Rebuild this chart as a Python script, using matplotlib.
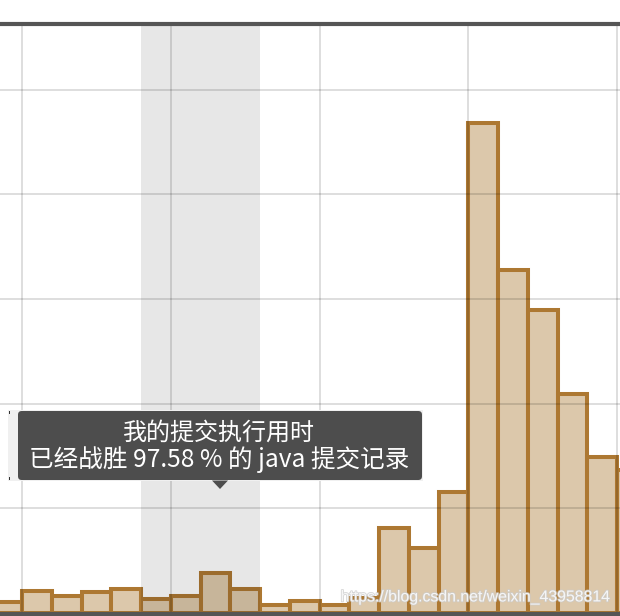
import numpy as np
import matplotlib.pyplot as plt
from matplotlib.patches import FancyBboxPatch, Polygon, Rectangle
import matplotlib.patheffects as pe

plt.rcParams['font.family'] = ['Noto Sans CJK SC', 'DejaVu Sans']

# bin left edges and bar heights (runtime distribution)
bin_left = np.arange(-1, 21)
counts = [1.0, 2.1, 1.6, 2.0, 2.3, 1.3, 1.6, 3.8, 2.3, 0.8, 1.1,
          0.8, 1.4, 8.1, 6.2, 11.6, 46.8, 32.8, 28.9, 20.9, 14.9, 13.7]

# highlighted range (my submission)
band = (4, 8)
tip_lines = ['我的提交执行用时', '已经战胜 97.58 % 的 java 提交记录']
watermark = 'https://blog.csdn.net/weixin_43958814'

W, H = 620, 616
fig = plt.figure(figsize=(W / 100, H / 100), dpi=100)
ax = fig.add_axes([0, 2 / H, 1, 590 / H])

ax.bar(bin_left, counts, width=1, align='edge', color='#dcc8ab',
       edgecolor='#ad7832', linewidth=2.9, zorder=2)
ax.axvspan(band[0], band[1], color='black', alpha=0.095, lw=0, zorder=3)

ax.set_xlim(-22 / 29.75, 598 / 29.75)
ax.set_ylim(-0.1, 56.26)
ax.set_xticks([0, 5, 10, 15, 20])
ax.set_yticks([10, 20, 30, 40, 50])
ax.grid(True, color='black', alpha=0.14, linewidth=1.3, zorder=4)
ax.set_axisbelow(False)
ax.tick_params(length=0, labelbottom=False, labelleft=False)
for s in ['left', 'right']:
    ax.spines[s].set_visible(False)
for s in ['top', 'bottom']:
    ax.spines[s].set_color('#555555')
    ax.spines[s].set_linewidth(3.0)
    ax.spines[s].set_zorder(6)

# helper: pixel -> figure fraction
def px(x, y):
    return (x / W, 1 - y / H)

# tooltip
x0, y0 = px(8, 481)
x1, y1 = px(423, 410)
fig.patches.append(Rectangle((x0, y0), x1 - x0, y1 - y0, transform=fig.transFigure,
                             facecolor='#f0f0f0', edgecolor='none', zorder=7))
dx0, dy0 = px(18, 480)
dx1, dy1 = px(422, 411)
fig.patches.append(FancyBboxPatch((dx0, dy0), dx1 - dx0, dy1 - dy0,
                                  boxstyle='round,pad=0,rounding_size=0.006',
                                  transform=fig.transFigure, facecolor='#4d4d4d',
                                  edgecolor='none', zorder=8))
fig.patches.append(Polygon([px(212, 480.5), px(228, 480.5), px(220, 489)],
                           closed=True, transform=fig.transFigure,
                           facecolor='#4d4d4d', edgecolor='none', zorder=8))
for (cx, cy) in [(8.5, 411), (8.5, 480)]:
    fig.patches.append(Rectangle(px(cx, cy + 3 if cy < 450 else cy), 1.5 / W, 3 / H,
                                 transform=fig.transFigure, facecolor='#333333',
                                 edgecolor='none', zorder=9))

fig.text(*px(219, 433), tip_lines[0], color='white', fontsize=17.3,
         ha='center', va='center', zorder=10)
fig.text(*px(219, 460), tip_lines[1], color='white', fontsize=17.7,
         ha='center', va='center', zorder=10)

# watermark
fig.text(*px(611, 597), watermark, color='white', alpha=0.8, fontsize=11.4,
         family='Liberation Sans', ha='right', va='center', zorder=10,
         path_effects=[pe.withStroke(linewidth=1.2, foreground='#cccccc')])

fig.savefig('out.png', dpi=100)
